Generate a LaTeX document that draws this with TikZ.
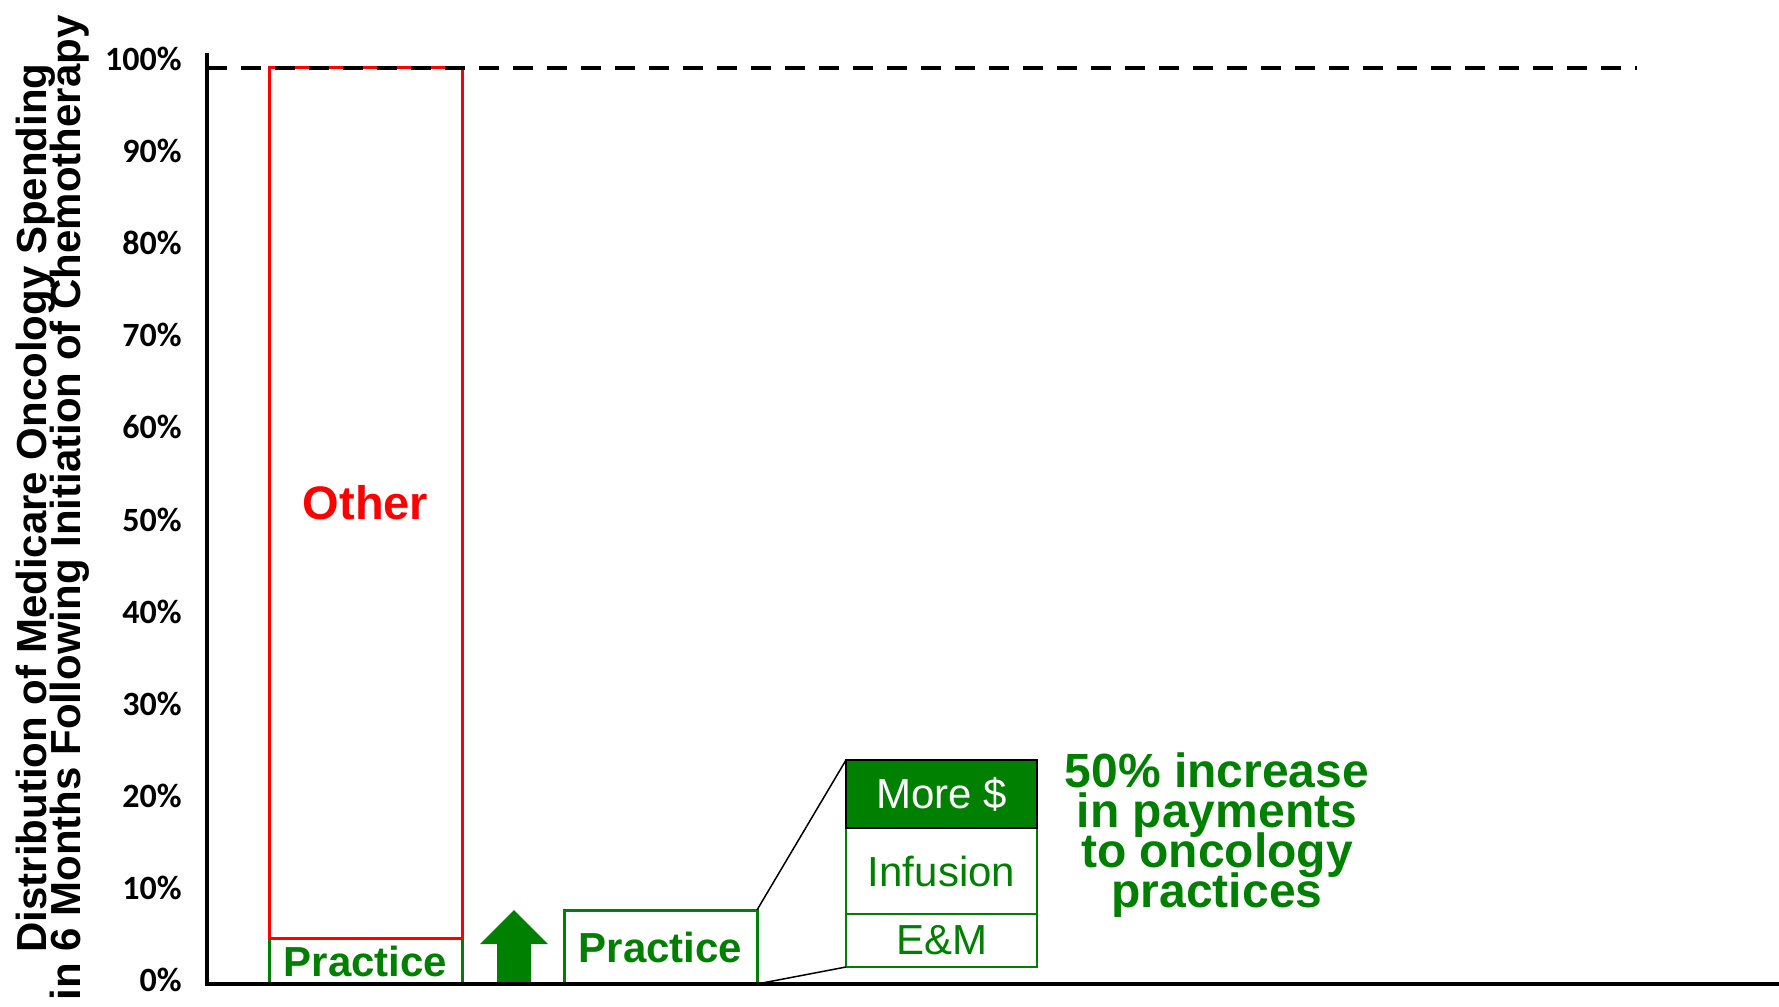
\documentclass[tikz,border=0pt]{standalone}
\usepackage{fontspec}
\setmainfont{Liberation Sans}
\newfontfamily\tickfont{Carlito}
\usetikzlibrary{positioning}
\definecolor{pgreen}{RGB}{0,128,0}
\newcommand\tightlines{\lineskiplimit=-100pt\relax}

\begin{document}
\begin{tikzpicture}[x=1pt,y=-1pt,outer sep=0pt,
    tick/.style={anchor=east,font=\tickfont\bfseries\fontsize{34}{34}\selectfont},
    bar/.style={draw,line width=3pt,anchor=north west,inner sep=0pt,minimum width=193pt},
    part/.style={draw=pgreen,line width=2pt,minimum width=191pt,inner sep=0pt,
                 text=pgreen,font=\fontsize{42}{42}\selectfont},
    axis/.style={line width=3.5pt}]

\useasboundingbox (0,0) rectangle (1779,1006);

% y axis title and ticks
\node[rotate=90,align=center,font=\bfseries\fontsize{42}{34}\selectfont\tightlines] (ytitle) at (53,508)
  {Distribution of Medicare Oncology Spending\\in 6 Months Following Initiation of Chemotherapy};
\foreach \v [count=\i from 0] in {0,10,...,100}
  \node[tick] (t\i) at (185,{980-9.21*\v}) {\v\%};

% first bar
\node[bar,draw=pgreen,text=pgreen,minimum height=46pt,
      font=\bfseries\fontsize{42}{42}\selectfont] (prac1) at (269,938) {Practice};
\node[bar,draw=red,text=red,minimum height=870pt,
      font=\bfseries\fontsize{47}{47}\selectfont] (other) at (269,68) {Other};

% arrow and second bar
\fill[pgreen] (497,984) -- (497,944) -- (480,944) -- (514,910) -- (548,944) -- (531,944) -- (531,984) -- cycle;
\node[bar,draw=pgreen,text=pgreen,minimum height=74pt,
      font=\bfseries\fontsize{42}{42}\selectfont] (prac2) at (564,910) {Practice};

% break down of practice payments
\node[part,minimum height=53pt,anchor=south west] (em) at (846,967) {E\&M};
\node[part,minimum height=86pt,above=0pt of em] (inf) {Infusion};
\node[part,minimum height=68pt,above=0pt of inf,fill=pgreen,draw=black,text=white] (more) {More \$};

\draw[line width=1.5pt] (prac2.north east) -- (more.north west);
\draw[line width=1.5pt] (prac2.south east) -- (em.south west);

\node[align=center,text=pgreen,font=\bfseries\fontsize{48}{40}\selectfont\tightlines] (gain) at (1217,835)
  {50\% increase\\in payments\\to oncology\\practices};

% axes
\draw[axis] (207,53) -- (207,984) -- (1779,984);
\draw[axis,dash pattern=on 20pt off 14pt] (207,68) -- (1637,68);

\end{tikzpicture}
\end{document}
